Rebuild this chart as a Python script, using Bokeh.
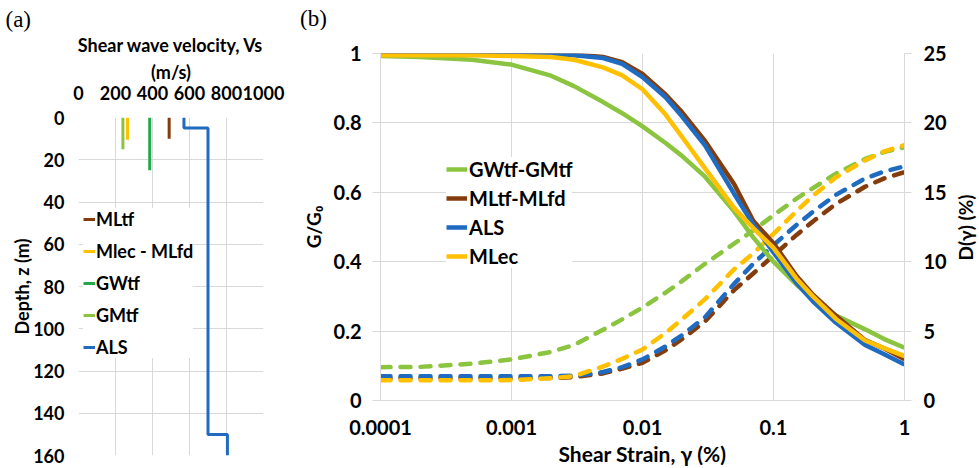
import math
from bokeh.plotting import figure
from bokeh.models import (Range1d, LinearAxis, FixedTicker, CustomJSTickFormatter,
                          Legend, LegendItem, Label)
from bokeh.layouts import row, column
from bokeh.embed import file_html
from bokeh.resources import INLINE

# ---------------- Panel (a): shear wave velocity profiles ----------------
mltf_vs = [490, 490]
mltf_z = [0, 10]
mlec_vs = [265, 265]
mlec_z = [0, 10.5]
gwtf_vs = [385, 385]
gwtf_z = [0, 25]
gmtf_vs = [240, 240]
gmtf_z = [0, 15]
als_vs = [570, 570, 700, 700, 805, 805]
als_z = [0, 5, 5, 150, 150, 160]

vs_ticks = [0, 200, 400, 600, 800, 1000]
z_ticks = [0, 20, 40, 60, 80, 100, 120, 140, 160]

# ---------------- Panel (b): G/G0 and damping curves ----------------
strain = [1e-4, 2e-4, 5e-4, 1e-3, 2e-3, 3e-3, 5e-3, 7e-3, 0.01, 0.015, 0.02,
          0.03, 0.05, 0.07, 0.1, 0.15, 0.2, 0.3, 0.5, 0.7, 1]

gg_gwgm = [0.993, 0.99, 0.982, 0.968, 0.936, 0.906, 0.86, 0.828, 0.79, 0.742, 0.705,
           0.645, 0.545, 0.47, 0.40, 0.334, 0.292, 0.245, 0.205, 0.177, 0.152]
gg_mltf = [1.0, 1.0, 1.0, 1.0, 1.0, 0.997, 0.99, 0.975, 0.941, 0.882, 0.831,
           0.748, 0.624, 0.518, 0.453, 0.359, 0.305, 0.244, 0.174, 0.15, 0.119]
gg_als = [1.0, 1.0, 1.0, 1.0, 0.998, 0.995, 0.987, 0.97, 0.932, 0.874, 0.819,
          0.735, 0.596, 0.508, 0.427, 0.338, 0.286, 0.224, 0.16, 0.133, 0.104]
gg_mlec = [0.995, 0.995, 0.995, 0.993, 0.99, 0.982, 0.96, 0.937, 0.897, 0.824, 0.76,
           0.669, 0.555, 0.497, 0.44, 0.351, 0.30, 0.235, 0.173, 0.151, 0.128]

d_gwgm = [2.4, 2.42, 2.65, 2.96, 3.5, 4.0, 5.1, 5.85, 6.7, 7.77, 8.6,
          9.85, 11.3, 12.25, 13.35, 14.55, 15.3, 16.35, 17.4, 17.9, 18.25]
d_mltf = [1.6, 1.6, 1.6, 1.6, 1.62, 1.68, 1.95, 2.3, 2.72, 3.62, 4.42,
          5.7, 7.95, 9.15, 10.45, 11.93, 12.9, 14.17, 15.4, 16.0, 16.45]
d_als = [1.75, 1.75, 1.75, 1.75, 1.75, 1.78, 2.05, 2.4, 2.96, 3.9, 4.7,
         6.0, 8.4, 9.85, 11.2, 12.65, 13.6, 14.82, 16.0, 16.5, 16.87]
d_mlec = [1.45, 1.45, 1.45, 1.47, 1.6, 1.76, 2.45, 3.0, 3.68, 4.86, 5.85,
          7.3, 9.45, 10.6, 12.0, 13.64, 14.75, 16.08, 17.3, 17.95, 18.4]

gg_ticks = [0, 0.2, 0.4, 0.6, 0.8, 1]
d_ticks = [0, 5, 10, 15, 20, 25]
strain_ticks = [1e-4, 1e-3, 1e-2, 1e-1, 1]

# colours
BROWN = "#843C0C"
YELLOW = "#FFC000"
BLUE = "#1F6BC0"
LGREEN = "#8BC43F"
GREEN = "#22A84A"
GRID = "#D9D9D9"
FONT = "Lato"
H = 468
STRIP_H = 30       # strip above panel (b) holding its "(b)" tag
SIDE_W = 25        # strip right of panel (b) holding its right-axis title

fmt = CustomJSTickFormatter(code="return tick.toString()")


def style_axis(ax, tick_fs, label_fs):
    ax.major_label_text_font = FONT
    ax.major_label_text_font_style = "bold"
    ax.major_label_text_font_size = tick_fs
    ax.major_label_text_color = "black"
    ax.axis_label_text_font = FONT
    ax.axis_label_text_font_style = "bold"
    ax.axis_label_text_font_size = label_fs
    ax.axis_label_text_color = "black"
    ax.minor_tick_line_color = None


def blank_fig(w, h, xr, yr):
    f = figure(width=w, height=h, output_backend="svg", toolbar_location=None,
               x_range=Range1d(*xr), y_range=Range1d(*yr), min_border=0,
               x_axis_type=None, y_axis_type=None)
    f.frame_align = False
    f.outline_line_color = None
    f.xgrid.visible = False
    f.ygrid.visible = False
    return f


# ---------------- Figure (a) ----------------
pa = figure(width=290, height=H, output_backend="svg", toolbar_location=None,
            x_range=Range1d(0, 1000), y_range=Range1d(160, 0),
            x_axis_location="above", min_border_left=78, min_border_right=27,
            min_border_top=117, min_border_bottom=13)
pa.frame_align = False
pa.outline_line_color = None
pa.title.text = "(a)"
pa.title.align = "left"
pa.title.offset = -73
pa.title.standoff = 0
pa.title.text_font = "Liberation Serif"
pa.title.text_font_style = "normal"
pa.title.text_font_size = "23px"
pa.title.text_color = "black"

axa_x = pa.xaxis[0]
axa_y = pa.yaxis[0]
axa_x.ticker = FixedTicker(ticks=vs_ticks)
axa_y.ticker = FixedTicker(ticks=z_ticks)
style_axis(axa_x, "18px", "18px")
style_axis(axa_y, "18px", "18px")
for ax in (axa_x, axa_y):
    ax.axis_line_color = None
    ax.major_tick_line_color = None
    ax.major_tick_out = 0
    ax.major_tick_in = 0
axa_x.axis_label = "Shear wave velocity, Vs\n(m/s)"
axa_x.major_label_standoff = 18
axa_x.axis_label_standoff = 0
axa_y.axis_label = "Depth, z (m)"
axa_y.major_label_standoff = 14
axa_y.axis_label_standoff = -3
pa.xgrid.grid_line_color = GRID
pa.ygrid.grid_line_color = GRID
pa.xgrid.ticker = FixedTicker(ticks=vs_ticks)
pa.ygrid.ticker = FixedTicker(ticks=z_ticks)

r1 = pa.line(mltf_vs, mltf_z, line_color=BROWN, line_width=3)
r2 = pa.line(mlec_vs, mlec_z, line_color=YELLOW, line_width=3)
r3 = pa.line(gwtf_vs, gwtf_z, line_color=GREEN, line_width=3)
r4 = pa.line(gmtf_vs, gmtf_z, line_color=LGREEN, line_width=3)
r5 = pa.line(als_vs, als_z, line_color=BLUE, line_width=3)

leg_a = Legend(items=[LegendItem(label="MLtf", renderers=[r1]),
                      LegendItem(label="Mlec - MLfd", renderers=[r2]),
                      LegendItem(label="GWtf", renderers=[r3]),
                      LegendItem(label="GMtf", renderers=[r4]),
                      LegendItem(label="ALS", renderers=[r5])],
               location=(5, 97), orientation="vertical",
               glyph_width=12, glyph_height=20, label_height=20, spacing=10,
               label_standoff=1, padding=5, margin=0,
               border_line_color=None, background_fill_color="white",
               background_fill_alpha=1.0,
               label_text_font=FONT, label_text_font_style="bold",
               label_text_font_size="18px", label_text_color="black")
pa.add_layout(leg_a)

# ---------------- Figure (b) ----------------
WB = 689 - SIDE_W
HB = H - STRIP_H
pb = figure(width=WB, height=HB, output_backend="svg", toolbar_location=None,
            x_axis_type="log", x_range=Range1d(1e-4, 1), y_range=Range1d(0, 1),
            min_border_left=90, min_border_right=WB - 614,
            min_border_top=53 - STRIP_H, min_border_bottom=67)
pb.frame_align = False
pb.outline_line_color = None
pb.extra_y_ranges = {"D": Range1d(0, 25)}
axb_x = pb.xaxis[0]
axb_y = pb.left[0]
axb_x.ticker = FixedTicker(ticks=strain_ticks)
axb_x.formatter = fmt
axb_y.ticker = FixedTicker(ticks=gg_ticks)
axb_y.formatter = fmt
pb.xgrid.ticker = FixedTicker(ticks=strain_ticks)
pb.ygrid.ticker = FixedTicker(ticks=gg_ticks)
pb.xgrid.grid_line_color = GRID
pb.ygrid.grid_line_color = GRID

axr = LinearAxis(y_range_name="D", ticker=FixedTicker(ticks=d_ticks), formatter=fmt)
pb.add_layout(axr, "right")

style_axis(axb_x, "20px", "21px")
style_axis(axb_y, "20px", "19px")
style_axis(axr, "20px", "19px")
for ax in (axb_x, axb_y, axr):
    ax.axis_line_color = GRID

axb_x.major_tick_line_color = None
axb_x.major_label_standoff = 13
axb_x.axis_label = "Shear Strain, γ (%)"
axb_x.axis_label_standoff = 3
axb_y.major_tick_line_color = GRID
axb_y.major_tick_out = 8
axb_y.major_tick_in = 0
axb_y.major_label_standoff = 11
axb_y.axis_label = "G/G₀"
axb_y.axis_label_standoff = 6
axr.major_tick_line_color = GRID
axr.major_tick_out = 7
axr.major_tick_in = 0
axr.major_label_standoff = 12

dash_kw = dict(line_width=4.5, line_dash="10 10", line_cap="round")
pb.line(strain, d_gwgm, line_color=LGREEN, y_range_name="D", **dash_kw)
pb.line(strain, d_mltf, line_color=BROWN, y_range_name="D", **dash_kw)
pb.line(strain, d_als, line_color=BLUE, y_range_name="D", **dash_kw)
pb.line(strain, d_mlec, line_color=YELLOW, y_range_name="D", **dash_kw)

s1 = pb.line(strain, gg_gwgm, line_color=LGREEN, line_width=4.5)
s2 = pb.line(strain, gg_mltf, line_color=BROWN, line_width=4.5)
s3 = pb.line(strain, gg_als, line_color=BLUE, line_width=4.5)
s4 = pb.line(strain, gg_mlec, line_color=YELLOW, line_width=4.5)

leg_b = Legend(items=[LegendItem(label="GWtf-GMtf", renderers=[s1]),
                      LegendItem(label="MLtf-MLfd", renderers=[s2]),
                      LegendItem(label="ALS", renderers=[s3]),
                      LegendItem(label="MLec", renderers=[s4])],
               location=(66, 132), orientation="vertical",
               glyph_width=21, glyph_height=20, label_height=20, spacing=5,
               label_standoff=2, padding=30, margin=0,
               border_line_color=None, background_fill_color="white",
               background_fill_alpha=1.0,
               label_text_font=FONT, label_text_font_style="bold",
               label_text_font_size="20px", label_text_color="black")
pb.add_layout(leg_b)

# strip above (b) with the panel tag
pt = blank_fig(689, STRIP_H, (0, 689), (0, STRIP_H))
pt.add_layout(Label(x=23, y=STRIP_H - 18, text="(b)", text_font="Liberation Serif",
                    text_font_size="23px", text_color="black",
                    text_align="center", text_baseline="middle"))

# strip right of (b) with the right-axis title, reading bottom to top
pc = blank_fig(SIDE_W, HB, (0, 1), (0, HB))
pc.add_layout(Label(x=0.45, y=HB - (227 - STRIP_H), text="D(γ) (%)", angle=math.pi / 2,
                    text_font=FONT, text_font_style="bold", text_font_size="19px",
                    text_color="black", text_align="center", text_baseline="middle"))

layout = row(pa, column(pt, row(pb, pc)))
open("out.html", "w").write(file_html(layout, INLINE))
